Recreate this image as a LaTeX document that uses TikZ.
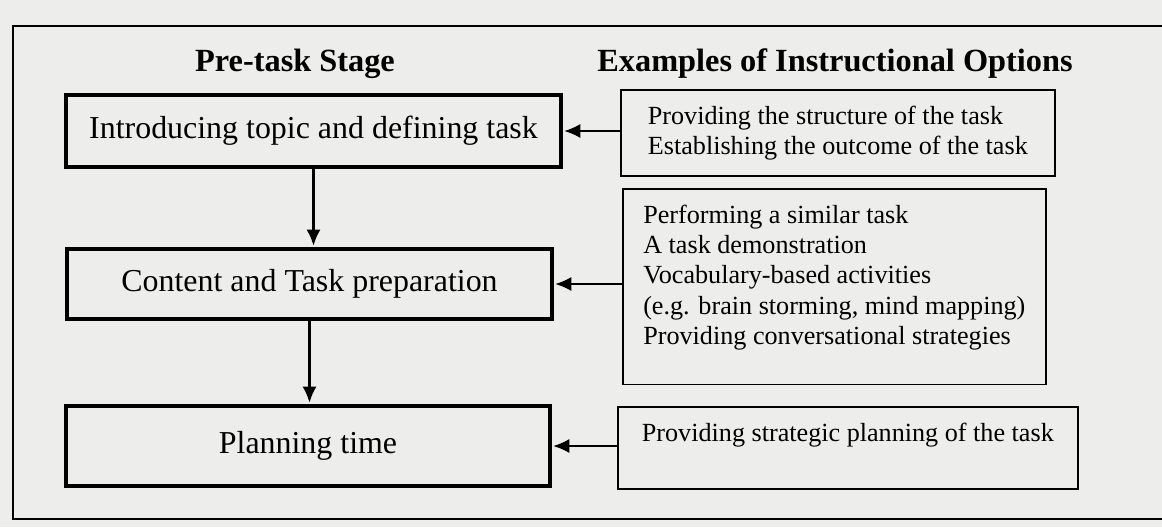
\documentclass[tikz,border=0pt]{standalone}
\usepackage{fontspec}
\setmainfont{Liberation Serif}
\usetikzlibrary{arrows.meta}
\definecolor{paper}{RGB}{237,237,235}
% extra depth below the last line of a box
\newcommand{\gap}[1]{\rule[-#1]{0pt}{#1}}

\begin{document}
\begin{tikzpicture}[
    x=0.025cm, y=-0.025cm,
    every node/.style={align=center},
    head/.style={font=\fontsize{23}{27}\selectfont\bfseries, anchor=base},
    stage/.style={rectangle, draw=black, line width=2.4pt, font=\fontsize{22.7}{27}\selectfont},
    option/.style={rectangle, draw=black, line width=1.1pt, align=left, anchor=north west, inner ysep=0.4cm, font=\fontsize{18.6}{21.6}\selectfont},
    arr/.style={-{Latex[length=11.5pt,width=10pt]}, line width=1.2pt, shorten >=1pt}
]
\useasboundingbox (0,0) rectangle (1162,527);
\fill[paper] (0,0) rectangle (1162,527);
\draw[line width=1pt] (1162,26) -- (13,26) -- (13,519) -- (1162,519);

\node[head] (hstage) at (295,71) {Pre-task Stage};
\node[head] (hopt)   at (835,71) {Examples of Instructional Options};

\node[stage, minimum width=12.375cm, minimum height=1.8cm] (intro) at (313.5,131) {Introducing topic and defining task};
\node[stage, minimum width=12.125cm, minimum height=1.75cm] (prep) at (309.5,284) {Content and Task preparation};
\node[stage, minimum width=12.1cm, minimum height=2cm] (plan) at (308,446) {Planning time};

\node[option, minimum width=10.85cm] (optintro) at (620,89)
    {Providing the structure of the task\\Establishing the outcome of the task};
\node[option, minimum width=10.575cm] (optprep) at (622,188)
    {Performing a similar task\\A task demonstration\\Vocabulary-based activities\\(e.g. brain storming, mind mapping)\\Providing conversational strategies\gap{0.6cm}};
\node[option, minimum width=11.5cm] (optplan) at (617,406)
    {Providing strategic planning of the task\gap{0.8cm}};

\draw[arr] (optintro.west |- intro.east) -- (intro.east);
\draw[arr] (optprep.west |- prep.east) -- (prep.east);
\draw[arr] (optplan.west |- plan.east) -- (plan.east);
\draw[arr, line width=2pt] (intro.south) -- (intro.south |- prep.north);
\draw[arr, line width=2pt] (prep.south) -- (prep.south |- plan.north);
\end{tikzpicture}
\end{document}
